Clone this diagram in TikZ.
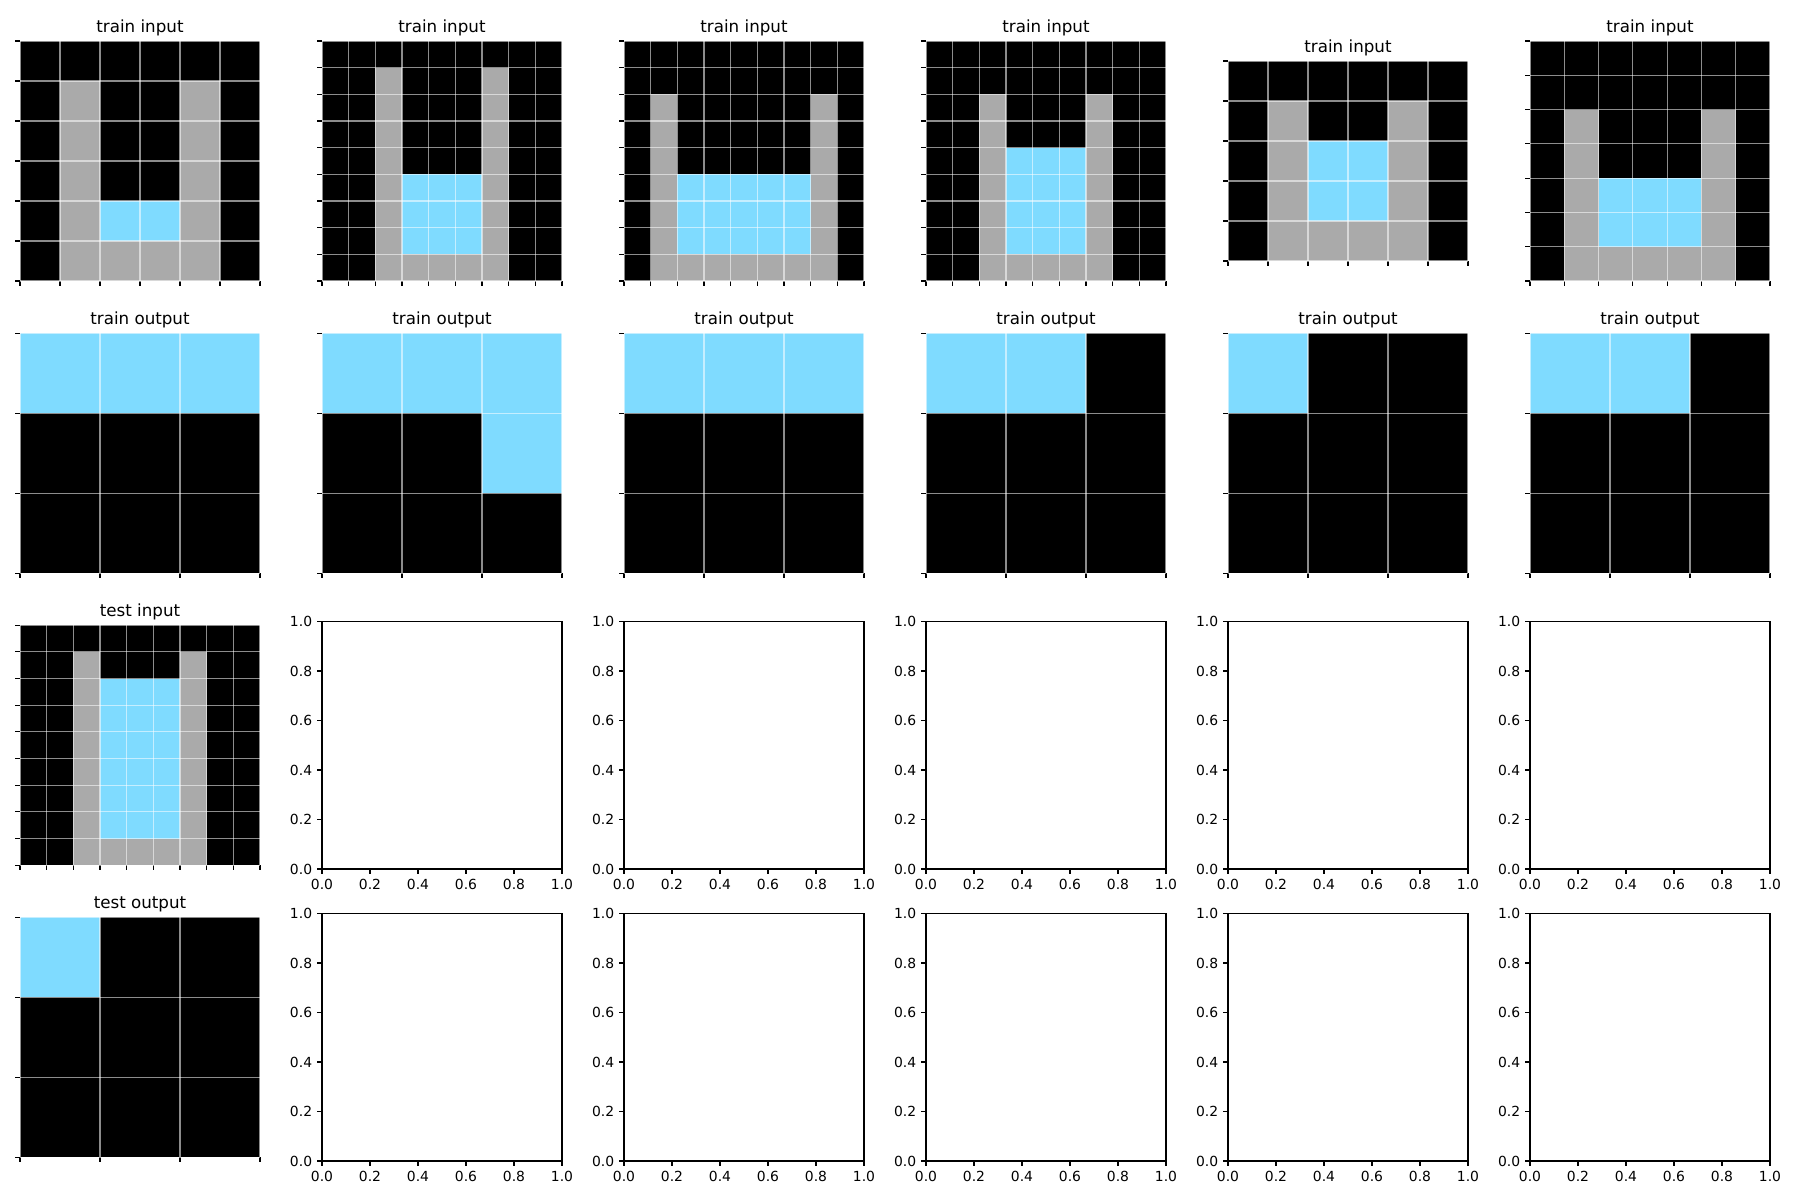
\documentclass[tikz,border=0pt]{standalone}
\usepackage{fontspec}
\setmainfont{DejaVu Sans}
\usepackage{xcolor}
\usepackage{tikz}

\definecolor{arc0}{HTML}{000000}
\definecolor{arc5}{HTML}{AAAAAA}
\definecolor{arc8}{HTML}{7FDBFF}

\tikzset{
  gridln/.style={draw=white, draw opacity=0.55, line width=1.1},
  tickln/.style={draw=black, line width=1.1},
  spine/.style={draw=black, line width=1.1},
  ttl/.style={font=\fontsize{16.7}{20}\selectfont, inner sep=0pt},
  ticklbl/.style={font=\fontsize{13.9}{16}\selectfont, inner sep=0pt}
}

% one ARC grid: name, left x, centre y, cols, rows, title, rows of values
\newcommand{\arcgrid}[7]{%
  \pgfmathsetmacro{\cellsz}{240/max(#4,#5)}
  \pgfmathsetmacro{\gridw}{\cellsz*#4}
  \pgfmathsetmacro{\gridh}{\cellsz*#5}
  \pgfmathsetmacro{\gridx}{#2+(240-\gridw)/2}
  \pgfmathsetmacro{\gridy}{#3-\gridh/2}
  \foreach \rowvals [count=\r from 0] in {#7} {
    \foreach \v [count=\c from 0] in \rowvals {
      \fill[fill=arc\v] ({\gridx+\c*\cellsz},{\gridy+\r*\cellsz}) rectangle ++(\cellsz,\cellsz);
    }
  }
  \foreach \i in {0,...,#4} {
    \draw[gridln] ({\gridx+\i*\cellsz},\gridy) -- ++(0,\gridh);
    \draw[tickln] ({\gridx+\i*\cellsz},{\gridy+\gridh}) -- ++(0,4.9);
  }
  \foreach \j in {0,...,#5} {
    \draw[gridln] (\gridx,{\gridy+\j*\cellsz}) -- ++(\gridw,0);
    \draw[tickln] (\gridx,{\gridy+\j*\cellsz}) -- ++(-4.9,0);
  }
  \node[ttl, anchor=base] (#1) at ({\gridx+\gridw/2},{\gridy-8.5}) {#6};
}

% one empty axes: name, left x, top y
\newcommand{\emptyax}[3]{%
  \draw[spine] (#2,#3) rectangle ++(240,247.5);
  \foreach \t [count=\k from 0] in {0.0,0.2,0.4,0.6,0.8,1.0} {
    \draw[tickln] ({#2},{#3+247.5-49.5*\k}) -- ++(-4.9,0);
    \draw[tickln] ({#2+48*\k},{#3+247.5}) -- ++(0,4.9);
    \node[ticklbl, anchor=east] (#1-y\k) at ({#2-9.7},{#3+247.5-49.5*\k}) {\t};
    \node[ticklbl, anchor=north] (#1-x\k) at ({#2+48*\k},{#3+247.5+9.7}) {\t};
  }
}

\begin{document}
\begin{tikzpicture}[x=1pt, y=-1pt]
  \useasboundingbox[fill=white] (0,0) rectangle (1800,1200);

  %% -- train inputs --
  \arcgrid{in1}{20}{161}{6}{6}{train input}{
    {0,0,0,0,0,0},{0,5,0,0,5,0},{0,5,0,0,5,0},{0,5,0,0,5,0},
    {0,5,8,8,5,0},{0,5,5,5,5,0}}
  \arcgrid{in2}{322}{161}{9}{9}{train input}{
    {0,0,0,0,0,0,0,0,0},{0,0,5,0,0,0,5,0,0},{0,0,5,0,0,0,5,0,0},
    {0,0,5,0,0,0,5,0,0},{0,0,5,0,0,0,5,0,0},{0,0,5,8,8,8,5,0,0},
    {0,0,5,8,8,8,5,0,0},{0,0,5,8,8,8,5,0,0},{0,0,5,5,5,5,5,0,0}}
  \arcgrid{in3}{624}{161}{9}{9}{train input}{
    {0,0,0,0,0,0,0,0,0},{0,0,0,0,0,0,0,0,0},{0,5,0,0,0,0,0,5,0},
    {0,5,0,0,0,0,0,5,0},{0,5,0,0,0,0,0,5,0},{0,5,8,8,8,8,8,5,0},
    {0,5,8,8,8,8,8,5,0},{0,5,8,8,8,8,8,5,0},{0,5,5,5,5,5,5,5,0}}
  \arcgrid{in4}{926}{161}{9}{9}{train input}{
    {0,0,0,0,0,0,0,0,0},{0,0,0,0,0,0,0,0,0},{0,0,5,0,0,0,5,0,0},
    {0,0,5,0,0,0,5,0,0},{0,0,5,8,8,8,5,0,0},{0,0,5,8,8,8,5,0,0},
    {0,0,5,8,8,8,5,0,0},{0,0,5,8,8,8,5,0,0},{0,0,5,5,5,5,5,0,0}}
  \arcgrid{in5}{1228}{161}{6}{5}{train input}{
    {0,0,0,0,0,0},{0,5,0,0,5,0},{0,5,8,8,5,0},{0,5,8,8,5,0},
    {0,5,5,5,5,0}}
  \arcgrid{in6}{1530}{161}{7}{7}{train input}{
    {0,0,0,0,0,0,0},{0,0,0,0,0,0,0},{0,5,0,0,0,5,0},{0,5,0,0,0,5,0},
    {0,5,8,8,8,5,0},{0,5,8,8,8,5,0},{0,5,5,5,5,5,0}}

  %% -- train outputs --
  \arcgrid{out1}{20}{453.3}{3}{3}{train output}{{8,8,8},{0,0,0},{0,0,0}}
  \arcgrid{out2}{322}{453.3}{3}{3}{train output}{{8,8,8},{0,0,8},{0,0,0}}
  \arcgrid{out3}{624}{453.3}{3}{3}{train output}{{8,8,8},{0,0,0},{0,0,0}}
  \arcgrid{out4}{926}{453.3}{3}{3}{train output}{{8,8,0},{0,0,0},{0,0,0}}
  \arcgrid{out5}{1228}{453.3}{3}{3}{train output}{{8,0,0},{0,0,0},{0,0,0}}
  \arcgrid{out6}{1530}{453.3}{3}{3}{train output}{{8,8,0},{0,0,0},{0,0,0}}

  %% -- test pair --
  \arcgrid{tin}{20}{745.2}{9}{9}{test input}{
    {0,0,0,0,0,0,0,0,0},{0,0,5,0,0,0,5,0,0},{0,0,5,8,8,8,5,0,0},
    {0,0,5,8,8,8,5,0,0},{0,0,5,8,8,8,5,0,0},{0,0,5,8,8,8,5,0,0},
    {0,0,5,8,8,8,5,0,0},{0,0,5,8,8,8,5,0,0},{0,0,5,5,5,5,5,0,0}}
  \arcgrid{tout}{20}{1037.3}{3}{3}{test output}{{8,0,0},{0,0,0},{0,0,0}}

  %% -- unused axes --
  \foreach \ax [count=\n] in {322,624,926,1228,1530} {
    \emptyax{ea\n}{\ax}{621.5}
    \emptyax{eb\n}{\ax}{913.5}
  }
\end{tikzpicture}
\end{document}
